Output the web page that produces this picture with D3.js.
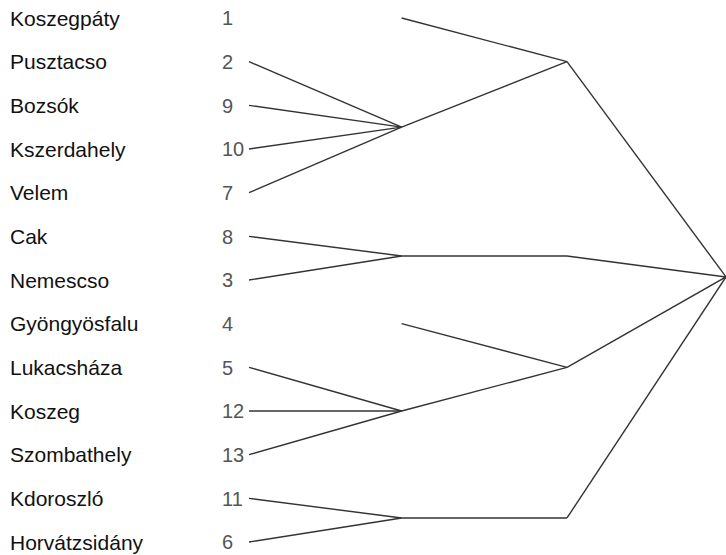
<!DOCTYPE html>
<html>
<head>
<meta charset="utf-8">
<script src="https://cdn.jsdelivr.net/npm/d3@7"></script>
<style>
  body { margin: 0; background: #fff; }
  svg { display: block; }
</style>
</head>
<body>
<svg id="chart"></svg>
<script>
// leaves, top to bottom
const leafNames = ["Koszegpáty", "Pusztacso", "Bozsók", "Kszerdahely", "Velem", "Cak", "Nemescso",
  "Gyöngyösfalu", "Lukacsháza", "Koszeg", "Szombathely", "Kdoroszló", "Horvátzsidány"]
const leafNumbers = ["1", "2", "9", "10", "7", "8", "3", "4", "5", "12", "13", "11", "6"]
const leafParents = ["A2", "A", "A", "A", "A", "B", "B", "C2", "C", "C", "C", "D", "D"]
const leafStart = [0.96, 0, 0, 0, 0, 0, 0, 0.96, 0, 0, 0, 0, 0]

// merge nodes: id, parent, merge height, vertical position (in leaf rows)
const clusterIds = ["A", "A2", "B", "B2", "C", "C2", "D", "D2", "root"]
const clusterParents = ["A2", "root", "B2", "root", "C2", "root", "D2", "root", ""]
const clusterHeights = [0.96, 2, 0.96, 2, 0.96, 2, 0.96, 2, 3]
const clusterRows = [2.5, 1, 5.45, 5.45, 9, 8, 11.45, 11.45, 5.93]

const width = 726
const height = 555

const svg = d3.select("#chart")
    .attr("width", width)
    .attr("height", height)

const table = leafNames.map((n, i) => ({
  id: "L" + i, parentId: leafParents[i], name: n, num: leafNumbers[i], h: leafStart[i], row: i
})).concat(clusterIds.map((c, i) => ({
  id: c, parentId: clusterParents[i] || null, h: clusterHeights[i], row: clusterRows[i]
})))

const root = d3.stratify().id(d => d.id).parentId(d => d.parentId)(table)

const x = d3.scaleLinear().domain([0, 3]).range([249, 726])
const y = d3.scaleLinear().domain([0, leafNames.length - 1]).range([18, 542])

// links
svg.append("g")
    .attr("fill", "none")
    .attr("stroke", "#333")
    .attr("stroke-width", 1.4)
  .selectAll("line")
  .data(root.links())
  .join("line")
    .attr("x1", d => x(d.target.data.h))
    .attr("y1", d => y(d.target.data.row))
    .attr("x2", d => x(d.source.data.h))
    .attr("y2", d => y(d.source.data.row))

// labels
const leaves = root.leaves().sort((a, b) => a.data.row - b.data.row)

svg.append("g")
    .style("font", "21px 'Liberation Sans', Arial, sans-serif")
    .attr("fill", "#111")
  .selectAll("text")
  .data(leaves)
  .join("text")
    .attr("x", 10)
    .attr("y", d => y(d.data.row))
    .attr("dy", "0.36em")
    .text(d => d.data.name)

svg.append("g")
    .style("font", "20px 'Liberation Sans', Arial, sans-serif")
    .attr("fill", "#555")
  .selectAll("text")
  .data(leaves)
  .join("text")
    .attr("x", 222)
    .attr("y", d => y(d.data.row))
    .attr("dy", "0.36em")
    .text(d => d.data.num)
</script>
</body>
</html>
